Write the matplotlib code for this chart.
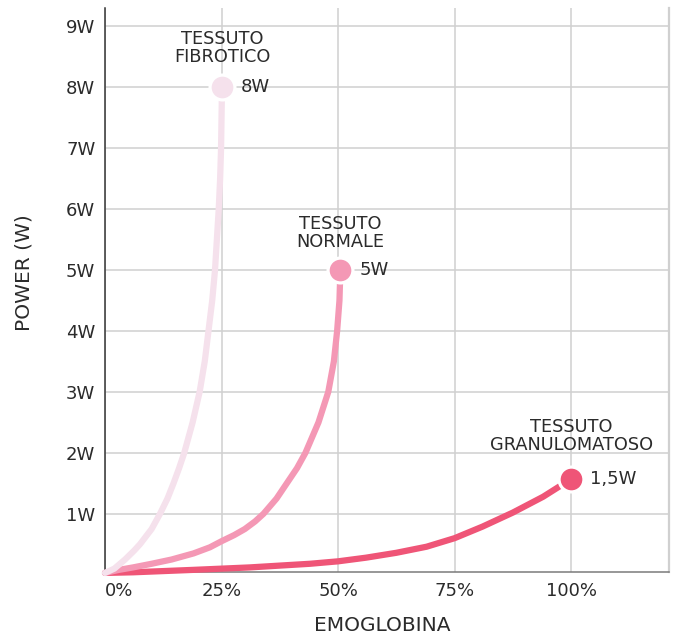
import matplotlib.pyplot as plt

# values (x = emoglobina %, y = power W)
fibrotico_x = [0, 2, 4.3, 6.3, 7.5, 10, 11.8, 13.4, 14.7, 15.9, 17, 18.8, 20.3,
               21.4, 22.2, 23.0, 23.6, 24.0, 24.4, 24.7, 24.9, 25.0, 25.1]
fibrotico_y = [0.03, 0.1, 0.25, 0.4, 0.5, 0.75, 1, 1.25, 1.5, 1.75, 2, 2.5, 3,
               3.5, 4, 4.5, 5, 5.5, 6, 6.5, 7, 7.5, 8]

normale_x = [0, 3, 6, 10, 14.3, 19, 22.5, 25, 27.7, 30, 32.2, 34, 36.8, 39,
             41.2, 43, 45.8, 47.9, 49.1, 49.8, 50.3, 50.5]
normale_y = [0.03, 0.08, 0.12, 0.18, 0.25, 0.35, 0.45, 0.55, 0.65, 0.75, 0.875,
             1, 1.25, 1.5, 1.75, 2, 2.5, 3, 3.5, 4, 4.5, 5]

granulo_x = [0, 6, 12.5, 19, 25, 31, 37.5, 44, 50, 56, 62.5, 69, 75, 81, 87.5,
             94, 100]
granulo_y = [0.03, 0.04, 0.06, 0.08, 0.1, 0.12, 0.15, 0.18, 0.22, 0.28, 0.36,
             0.46, 0.6, 0.79, 1.02, 1.28, 1.57]

names = ['TESSUTO\nFIBROTICO', 'TESSUTO\nNORMALE', 'TESSUTO\nGRANULOMATOSO']
value_labels = ['8W', '5W', '1,5W']
colors = ['#F5E1EC', '#F498B5', '#EF5577']

x_ticks = [0, 25, 50, 75, 100]
x_ticklabels = ['0%', '25%', '50%', '75%', '100%']
y_ticks = [1, 2, 3, 4, 5, 6, 7, 8, 9]
y_ticklabels = ['1W', '2W', '3W', '4W', '5W', '6W', '7W', '8W', '9W']

plt.rcParams['font.family'] = ['DejaVu Sans']
text_col = '#2b2b2b'

fig = plt.figure(figsize=(6.78, 6.36), dpi=100)
ax = fig.add_axes([105/678, 1 - 572.3/636, 564/678, 564.3/636])

ax.set_xlim(0, 121)
ax.set_ylim(0.04, 9.3)

ax.set_xticks(x_ticks)
ax.set_xticklabels(x_ticklabels)
ax.set_yticks(y_ticks)
ax.set_yticklabels(y_ticklabels)
ax.tick_params(length=0, labelsize=13, labelcolor=text_col)
ax.tick_params(axis='y', pad=7)
ax.tick_params(axis='x', pad=7)
ax.get_xticklabels()[0].set_horizontalalignment('left')

ax.grid(True, color='#D0D0D0', lw=1.1)
ax.set_axisbelow(True)
ax.spines['top'].set_visible(False)
ax.spines['right'].set_color('#D0D0D0')
ax.spines['right'].set_linewidth(1.6)
ax.spines['left'].set_color('#333333')
ax.spines['left'].set_linewidth(1.1)
ax.spines['bottom'].set_color('#7a7a7a')
ax.spines['bottom'].set_linewidth(1.1)

series = [(fibrotico_x, fibrotico_y), (normale_x, normale_y), (granulo_x, granulo_y)]
name_offsets = [15.5, 13.7, 17.7]

# draw red first so the light ones sit on top near the origin
for i in [2, 1, 0]:
    xs, ys = series[i]
    ax.plot(xs, ys, color=colors[i], lw=4.5, solid_capstyle='round',
            solid_joinstyle='round', clip_on=False, zorder=3)

for i in range(3):
    xs, ys = series[i]
    ax.plot(xs[-1], ys[-1], 'o', ms=17.9, mfc=colors[i], mec='white',
            mew=2.3, zorder=4, clip_on=False)
    ax.annotate(names[i], (xs[-1], ys[-1]), xytext=(0, name_offsets[i]),
                textcoords='offset points', ha='center', va='bottom',
                fontsize=12.8, color=text_col, linespacing=1.0, zorder=5)
    ax.annotate(value_labels[i], (xs[-1], ys[-1]), xytext=(13.5, 0),
                textcoords='offset points', ha='left', va='center',
                fontsize=13, color=text_col, zorder=5)

ax.set_xlabel('EMOGLOBINA', fontsize=14.5, color=text_col)
ax.set_ylabel('POWER (W)', fontsize=14.5, color=text_col)
ax.xaxis.set_label_coords((382 - 105) / 564, (572.3 - 616) / 564.3)
ax.yaxis.set_label_coords((34 - 105) / 564, (572.3 - 272.5) / 564.3)

fig.savefig('out.png', dpi=100)
